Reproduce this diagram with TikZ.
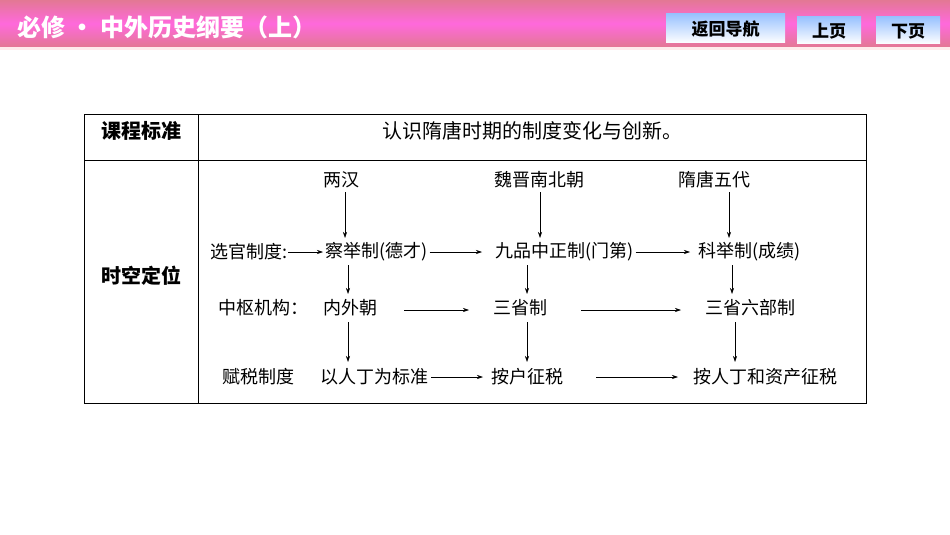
\documentclass[tikz,border=0pt]{standalone}
\usepackage{fontspec}
\setmainfont{Noto Sans CJK SC}
\usetikzlibrary{arrows.meta}
\begin{document}
\begin{tikzpicture}[x=1pt,y=-1pt,
  t/.style={inner sep=0pt,font=\fontsize{18}{18}\selectfont},
  ar/.style={-{Stealth[length=6pt,width=4pt]},line width=0.6pt},
  btn/.style={inner sep=0pt,font=\fontsize{17}{17}\selectfont\bfseries,text=black}]
\useasboundingbox (0,0) rectangle (950,535);
\fill[white] (0,0) rectangle (950,535);
\shade[top color=purple!55!pink!80, bottom color=purple!55!pink!80, middle color=magenta!45!pink] (0,0) rectangle (950,47);
\fill[pink!30] (0,47) rectangle (950,50);
\node[inner sep=0pt,anchor=west,text=white,font=\fontsize{24}{24}\selectfont\bfseries] (title) at (17,27) {必修 · 中外历史纲要（上）};
\shade[top color=cyan!40!blue!40, bottom color=white] (666,14) rectangle (785,43);
\node[btn] (b1) at (725.5,29) {返回导航};
\shade[top color=cyan!40!blue!40, bottom color=white] (797,17) rectangle (861,44);
\node[btn] (b2) at (829,31) {上页};
\shade[top color=cyan!40!blue!40, bottom color=white] (876,17) rectangle (940,44);
\node[btn] (b3) at (908,31) {下页};
% table
\draw[line width=0.8pt] (84,114) rectangle (866,403);
\draw[line width=0.6pt] (198,114) -- (198,403) (84,160) -- (866,160);
\node[inner sep=0pt,font=\fontsize{20}{20}\selectfont\bfseries] (k1) at (141,131) {课程标准};
\node[inner sep=0pt,font=\fontsize{20}{20}\selectfont] (k2) at (532,131) {认识隋唐时期的制度变化与创新。};
\node[inner sep=0pt,font=\fontsize{20}{20}\selectfont\bfseries] (k3) at (141,276) {时空定位};
% row1
\node[t] (p1) at (341,180) {两汉};
\node[t] (p2) at (539,180) {魏晋南北朝};
\node[t] (p3) at (714,180) {隋唐五代};
% row2
\node[t,anchor=west] (a0) at (210,252) {选官制度:};
\node[t,anchor=west] (a1) at (325,252) {察举制(德才)};
\node[t,anchor=west] (a2) at (495,252) {九品中正制(门第)};
\node[t,anchor=west] (a3) at (698,252) {科举制(成绩)};
% row3
\node[t,anchor=west] (b0) at (218,308) {中枢机构：};
\node[t,anchor=west] (c1) at (323,308) {内外朝};
\node[t,anchor=west] (c2) at (493,308) {三省制};
\node[t,anchor=west] (c3) at (705,308) {三省六部制};
% row4
\node[t,anchor=west] (d0) at (222,377) {赋税制度};
\node[t,anchor=west] (d1) at (320,377) {以人丁为标准};
\node[t,anchor=west] (d2) at (491,377) {按户征税};
\node[t,anchor=west] (d3) at (693,377) {按人丁和资产征税};
% vertical arrows
\draw[ar] (345,192) -- (345,238);
\draw[ar] (540,192) -- (540,238);
\draw[ar] (729,192) -- (729,238);
\draw[ar] (348,265) -- (348,294);
\draw[ar] (527,265) -- (527,294);
\draw[ar] (732,265) -- (732,294);
\draw[ar] (348,322) -- (348,362);
\draw[ar] (527,322) -- (527,362);
\draw[ar] (735,322) -- (735,362);
% horizontal arrows
\draw[ar] (a0.east) ++(1,0) -- ([xshift=-2pt]a1.west);
\draw[ar] (a1.east) ++(2,0) -- (482,252);
\draw[ar] (a2.east) ++(2,0) -- (690,252);
\draw[ar] (404,310) -- (469,310);
\draw[ar] (581,310) -- (681,310);
\draw[ar] (d1.east) ++(3,0) -- ([xshift=-8pt]d2.west);
\draw[ar] (596,377) -- (678,377);
\end{tikzpicture}
\end{document}
